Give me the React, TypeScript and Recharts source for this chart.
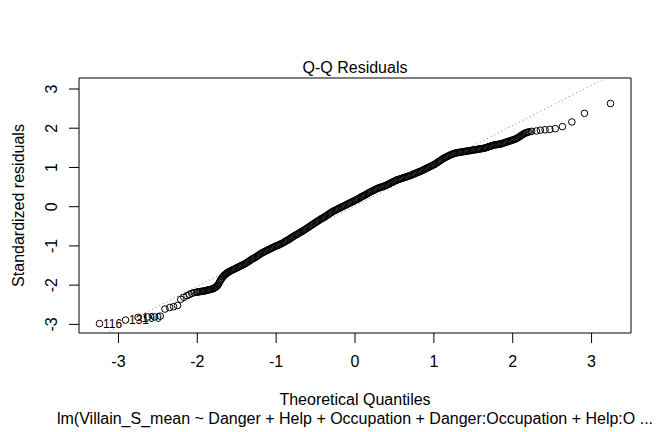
import React from "react";
import {
  ScatterChart,
  Scatter,
  XAxis,
  YAxis,
  ReferenceArea,
  ReferenceLine,
} from "recharts";

// theoretical quantiles (x) and standardized residuals (y)
const theoretical = [
  -3.24, -2.91, -2.75, -2.63, -2.54, -2.47, -2.41, -2.35, -2.3, -2.25,
  -2.21, -2.17, -2.13, -2.1, -2.07, -2.04, -2.01, -1.98, -1.95, -1.92,
  -1.89, -1.86, -1.83, -1.8, -1.78, -1.76, -1.74, -1.72, -1.7, -1.68,
  -1.66, -1.64, -1.62, -1.6, -1.57, -1.54, -1.51, -1.48, -1.45, -1.42,
  -1.39, -1.36, -1.33, -1.3, -1.27, -1.24, -1.21, -1.18, -1.15, -1.12,
  -1.09, -1.06, -1.03, -1.0, -0.97, -0.94, -0.91, -0.88, -0.85, -0.82,
  -0.79, -0.76, -0.73, -0.7, -0.67, -0.64, -0.61, -0.58, -0.55, -0.52,
  -0.49, -0.46, -0.43, -0.4, -0.37, -0.34, -0.31, -0.28, -0.25, -0.22,
  -0.19, -0.16, -0.13, -0.1, -0.07, -0.04, -0.01, 0.02, 0.05, 0.08,
  0.11, 0.14, 0.17, 0.2, 0.23, 0.26, 0.29, 0.32, 0.35, 0.38,
  0.41, 0.44, 0.47, 0.5, 0.53, 0.56, 0.59, 0.62, 0.65, 0.68,
  0.71, 0.74, 0.77, 0.8, 0.83, 0.86, 0.89, 0.92, 0.95, 0.98,
  1.01, 1.04, 1.07, 1.1, 1.13, 1.16, 1.19, 1.22, 1.25, 1.28,
  1.31, 1.34, 1.37, 1.4, 1.43, 1.46, 1.49, 1.52, 1.55, 1.58,
  1.61, 1.64, 1.67, 1.7, 1.73, 1.76, 1.79, 1.82, 1.85, 1.88,
  1.91, 1.94, 1.97, 2.0, 2.03, 2.06, 2.09, 2.12, 2.15, 2.18,
  2.21, 2.24, 2.3, 2.35, 2.41, 2.47, 2.54, 2.63, 2.75, 2.91, 3.24,
];

const residuals = [
  -2.98, -2.89, -2.82, -2.81, -2.81, -2.79, -2.61, -2.57, -2.55, -2.52,
  -2.36, -2.31, -2.27, -2.24, -2.21, -2.19, -2.18, -2.17, -2.16, -2.15,
  -2.14, -2.12, -2.11, -2.09, -2.07, -2.04, -2.0, -1.93, -1.86, -1.8,
  -1.75, -1.72, -1.69, -1.66, -1.63, -1.6, -1.57, -1.54, -1.51, -1.48,
  -1.45, -1.41, -1.37, -1.33, -1.3, -1.26, -1.22, -1.18, -1.15, -1.12,
  -1.09, -1.06, -1.03, -1.0, -0.98, -0.95, -0.92, -0.88, -0.85, -0.81,
  -0.77, -0.73, -0.7, -0.66, -0.63, -0.59, -0.55, -0.51, -0.47, -0.43,
  -0.39, -0.35, -0.31, -0.28, -0.24, -0.2, -0.16, -0.12, -0.09, -0.06,
  -0.03, 0.0, 0.03, 0.06, 0.09, 0.12, 0.15, 0.18, 0.21, 0.25,
  0.28, 0.31, 0.35, 0.38, 0.41, 0.44, 0.47, 0.49, 0.51, 0.53,
  0.56, 0.59, 0.62, 0.65, 0.68, 0.7, 0.72, 0.74, 0.76, 0.78,
  0.8, 0.83, 0.85, 0.88, 0.9, 0.93, 0.96, 0.99, 1.02, 1.05,
  1.08, 1.12, 1.16, 1.2, 1.24, 1.27, 1.3, 1.33, 1.35, 1.37,
  1.38, 1.39, 1.4, 1.41, 1.42, 1.43, 1.44, 1.45, 1.46, 1.47,
  1.48, 1.49, 1.51, 1.53, 1.55, 1.57, 1.58, 1.59, 1.6, 1.62,
  1.64, 1.66, 1.68, 1.7, 1.72, 1.75, 1.79, 1.83, 1.87, 1.89,
  1.91, 1.92, 1.93, 1.95, 1.96, 1.97, 1.99, 2.04, 2.16, 2.38, 2.63,
];

// the dense middle of the band: more observations in between the ones above
const theoreticalMid = [
  -1.995, -1.965, -1.935, -1.905, -1.875, -1.845, -1.815, -1.79, -1.77, -1.75,
  -1.73, -1.71, -1.69, -1.67, -1.65, -1.63, -1.61, -1.585, -1.555, -1.525,
  -1.495, -1.465, -1.435, -1.405, -1.375, -1.345, -1.315, -1.285, -1.255, -1.225,
  -1.195, -1.165, -1.135, -1.105, -1.075, -1.045, -1.015, -0.985, -0.955, -0.925,
  -0.895, -0.865, -0.835, -0.805, -0.775, -0.745, -0.715, -0.685, -0.655, -0.625,
  -0.595, -0.565, -0.535, -0.505, -0.475, -0.445, -0.415, -0.385, -0.355, -0.325,
  -0.295, -0.265, -0.235, -0.205, -0.175, -0.145, -0.115, -0.085, -0.055, -0.025,
  0.005, 0.035, 0.065, 0.095, 0.125, 0.155, 0.185, 0.215, 0.245, 0.275,
  0.305, 0.335, 0.365, 0.395, 0.425, 0.455, 0.485, 0.515, 0.545, 0.575,
  0.605, 0.635, 0.665, 0.695, 0.725, 0.755, 0.785, 0.815, 0.845, 0.875,
  0.905, 0.935, 0.965, 0.995, 1.025, 1.055, 1.085, 1.115, 1.145, 1.175,
  1.205, 1.235, 1.265, 1.295, 1.325, 1.355, 1.385, 1.415, 1.445, 1.475,
  1.505, 1.535, 1.565, 1.595, 1.625, 1.655, 1.685, 1.715, 1.745, 1.775,
  1.805, 1.835, 1.865, 1.895, 1.925, 1.955, 1.985, 2.015, 2.045, 2.075,
  2.105, 2.135, 2.165, 2.195,
];

const residualsMid = [
  -2.175, -2.165, -2.155, -2.145, -2.13, -2.115, -2.1, -2.08, -2.055, -2.02,
  -1.97, -1.89, -1.83, -1.78, -1.735, -1.705, -1.675, -1.645, -1.615, -1.585,
  -1.555, -1.525, -1.495, -1.465, -1.43, -1.39, -1.35, -1.315, -1.28, -1.24,
  -1.2, -1.165, -1.135, -1.105, -1.075, -1.045, -1.015, -0.99, -0.965, -0.935,
  -0.9, -0.865, -0.83, -0.79, -0.75, -0.715, -0.68, -0.645, -0.61, -0.57,
  -0.53, -0.49, -0.45, -0.41, -0.37, -0.33, -0.295, -0.26, -0.22, -0.18,
  -0.14, -0.105, -0.075, -0.045, -0.015, 0.015, 0.045, 0.075, 0.105, 0.135,
  0.165, 0.195, 0.23, 0.265, 0.295, 0.33, 0.365, 0.395, 0.425, 0.455,
  0.48, 0.5, 0.52, 0.545, 0.575, 0.605, 0.635, 0.665, 0.69, 0.71,
  0.73, 0.75, 0.77, 0.79, 0.815, 0.84, 0.865, 0.89, 0.915, 0.945,
  0.975, 1.005, 1.035, 1.065, 1.1, 1.14, 1.18, 1.22, 1.255, 1.285,
  1.315, 1.34, 1.36, 1.375, 1.385, 1.395, 1.405, 1.415, 1.425, 1.435,
  1.445, 1.455, 1.465, 1.475, 1.485, 1.5, 1.52, 1.54, 1.56, 1.575,
  1.585, 1.595, 1.61, 1.63, 1.65, 1.67, 1.69, 1.71, 1.735, 1.77,
  1.81, 1.85, 1.88, 1.9,
];

// the three most extreme residuals get their observation numbers
const idLabels = ["116", "131", "190"];
const idIndex = [0, 1, 2];

const xTicks = [-3, -2, -1, 0, 1, 2, 3];
const yTicks = [-3, -2, -1, 0, 1, 2, 3];

// qqline through the quartiles
const lineIntercept = 0.02;
const lineSlope = 1.025;

const W = 672;
const H = 432;
const LEFT = 79;
const RIGHT = 631;
const TOP = 78;
const BOTTOM = 333;
const X_DOMAIN: [number, number] = [-3.5, 3.5];
const Y_DOMAIN: [number, number] = [-3.22, 3.28];
const FONT = "'Liberation Sans', Arial, Helvetica, sans-serif";

const points = [
  ...theoretical.map((x, i) => ({ x, y: residuals[i] })),
  ...theoreticalMid.map((x, i) => ({ x, y: residualsMid[i] })),
];
const labelled = idIndex.map((i, k) => ({
  x: theoretical[i],
  y: residuals[i],
  label: idLabels[k],
}));

const y0 = Y_DOMAIN[0];
const y1 = Y_DOMAIN[1];
const qqSegment = [
  { x: (y0 - lineIntercept) / lineSlope, y: y0 },
  { x: (y1 - lineIntercept) / lineSlope, y: y1 },
];

const OpenCircle = (props: any) => {
  const { cx, cy } = props;
  if (cx == null || cy == null) return null;
  return <circle cx={cx} cy={cy} r={3.3} fill="none" stroke="#000" strokeWidth={1} />;
};

const IdText = (props: any) => {
  const { cx, cy, payload } = props;
  if (cx == null || cy == null) return null;
  return (
    <text
      x={cx + 3.5}
      y={cy}
      dy="0.35em"
      fontSize={12}
      fontFamily={FONT}
      fill="#000"
    >
      {payload.label}
    </text>
  );
};

const XTick = (props: any) => {
  const { x, payload } = props;
  return (
    <text x={x} y={BOTTOM + 34} textAnchor="middle" fontSize={16} fontFamily={FONT} fill="#000">
      {String(payload.value)}
    </text>
  );
};

const YTick = (props: any) => {
  const { y, payload } = props;
  const bx = LEFT - 22;
  return (
    <text
      x={bx}
      y={y}
      transform={`rotate(-90, ${bx}, ${y})`}
      textAnchor="middle"
      fontSize={16}
      fontFamily={FONT}
      fill="#000"
    >
      {String(payload.value)}
    </text>
  );
};

export default function App() {
  const midX = (LEFT + RIGHT) / 2;
  const midY = (TOP + BOTTOM) / 2;
  return (
    <div style={{ position: "absolute", left: 0, top: 0, width: W, height: H, background: "#fff" }}>
      <ScatterChart
        width={W}
        height={H}
        margin={{ top: TOP, right: W - RIGHT, bottom: 0, left: 0 }}
      >
        <XAxis
          type="number"
          dataKey="x"
          domain={X_DOMAIN}
          ticks={xTicks}
          allowDataOverflow
          axisLine={false}
          tickLine={{ stroke: "#000" }}
          tickSize={10}
          tick={<XTick />}
          height={H - BOTTOM}
        />
        <YAxis
          type="number"
          dataKey="y"
          domain={Y_DOMAIN}
          ticks={yTicks}
          allowDataOverflow
          axisLine={false}
          tickLine={{ stroke: "#000" }}
          tickSize={10}
          tick={<YTick />}
          width={LEFT}
        />
        <ReferenceArea
          x1={X_DOMAIN[0]}
          x2={X_DOMAIN[1]}
          y1={Y_DOMAIN[0]}
          y2={Y_DOMAIN[1]}
          fill="none"
          fillOpacity={0}
          stroke="#000"
          strokeWidth={1}
        />
        <ReferenceLine
          segment={qqSegment}
          stroke="#7f7f7f"
          strokeDasharray="1 3"
          strokeWidth={1}
        />
        <Scatter data={points} shape={<OpenCircle />} isAnimationActive={false} />
        <Scatter data={labelled} shape={<IdText />} isAnimationActive={false} />
      </ScatterChart>
      <svg
        width={W}
        height={H}
        style={{ position: "absolute", left: 0, top: 0, pointerEvents: "none" }}
        fontFamily={FONT}
        fontSize={16}
      >
        <text x={midX} y={TOP - 5} textAnchor="middle" fill="#000">
          Q-Q Residuals
        </text>
        <text x={midX} y={BOTTOM + 72} textAnchor="middle" fill="#000">
          Theoretical Quantiles
        </text>
        <text x={midX} y={BOTTOM + 91} textAnchor="middle" fill="#000">
          lm(Villain_S_mean ~ Danger + Help + Occupation + Danger:Occupation + Help:O ...
        </text>
        <text
          x={24}
          y={midY}
          transform={`rotate(-90, 24, ${midY})`}
          textAnchor="middle"
          fill="#000"
        >
          Standardized residuals
        </text>
      </svg>
    </div>
  );
}
